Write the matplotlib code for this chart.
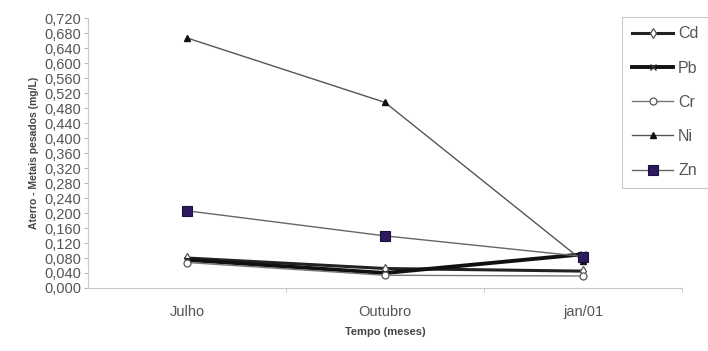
import matplotlib
matplotlib.use("Agg")
import matplotlib.pyplot as plt
from matplotlib.ticker import FixedLocator

plt.rcParams['font.family'] = ['Liberation Sans', 'DejaVu Sans']

months = ["Julho", "Outubro", "jan/01"]
cd = [0.080, 0.052, 0.045]
pb = [0.075, 0.040, 0.090]
cr = [0.068, 0.034, 0.032]
ni = [0.667, 0.495, 0.072]
zn = [0.206, 0.139, 0.084]
y_ticks = [i * 0.04 for i in range(19)]
y_tick_labels = [f"{v:.3f}".replace(".", ",") for v in y_ticks]

fig = plt.figure(figsize=(7.08, 3.51), dpi=100)
ax = fig.add_axes([0.1243, 0.1795, 0.8390, 0.7690])

x = list(range(len(months)))
text_c = "#555555"

ax.plot(x, cd, color="#222222", lw=2.2, marker="d", ms=5, mfc="white", mec="#555555", mew=0.9, label="Cd", zorder=3)
ax.plot(x, pb, color="#111111", lw=2.8, marker="x", ms=4, mec="#333333", mew=1.0, label="Pb", zorder=3)
ax.plot(x, cr, color="#777777", lw=1.0, marker="o", ms=5, mfc="white", mec="#555555", mew=0.9, label="Cr", zorder=3)
ax.plot(x, ni, color="#555555", lw=1.0, marker="^", ms=5, mfc="#111111", mec="#111111", label="Ni", zorder=3)
ax.plot(x, zn, color="#666666", lw=1.0, marker="s", ms=7.5, mfc="#2d1b5e", mec="#1a1040", mew=0.8, label="Zn", zorder=4)

ax.set_xlim(-0.5, 2.5)
ax.set_ylim(0, 0.72)
ax.yaxis.set_major_locator(FixedLocator(y_ticks))
ax.set_yticklabels(y_tick_labels, fontsize=10.5, color=text_c)
ax.set_xticks(x)
ax.set_xticklabels(months, fontsize=10.5, color=text_c)
ax.set_xticks([0.5, 1.5, 2.5], minor=True)
ax.tick_params(axis="x", which="major", length=0, pad=12)
ax.tick_params(axis="x", which="minor", length=3, color="#bbbbbb", direction="out")
ax.tick_params(axis="y", length=3, color="#bbbbbb", width=0.8, pad=2)

for s in ["top", "right"]:
    ax.spines[s].set_visible(False)
for s in ["left", "bottom"]:
    ax.spines[s].set_color("#c8c8c8")
    ax.spines[s].set_linewidth(0.8)

ax.set_xlabel("Tempo (meses)", fontsize=8, fontweight="bold", color="#444444", labelpad=6)
ax.set_ylabel("Aterro - Metais pesados (mg/L)", fontsize=7.5, fontweight="bold", color="#444444", labelpad=4)

leg = fig.legend(loc="upper left", bbox_to_anchor=(0.879, 0.952), fontsize=11.5,
                 frameon=True, fancybox=False, handlelength=2.6, handletextpad=0.3,
                 labelspacing=1.2, borderpad=0.6, borderaxespad=0)
leg.get_frame().set_edgecolor("#bbbbbb")
leg.get_frame().set_linewidth(0.8)
for t in leg.get_texts():
    t.set_color("#555555")

fig.savefig("out.png", dpi=100)
